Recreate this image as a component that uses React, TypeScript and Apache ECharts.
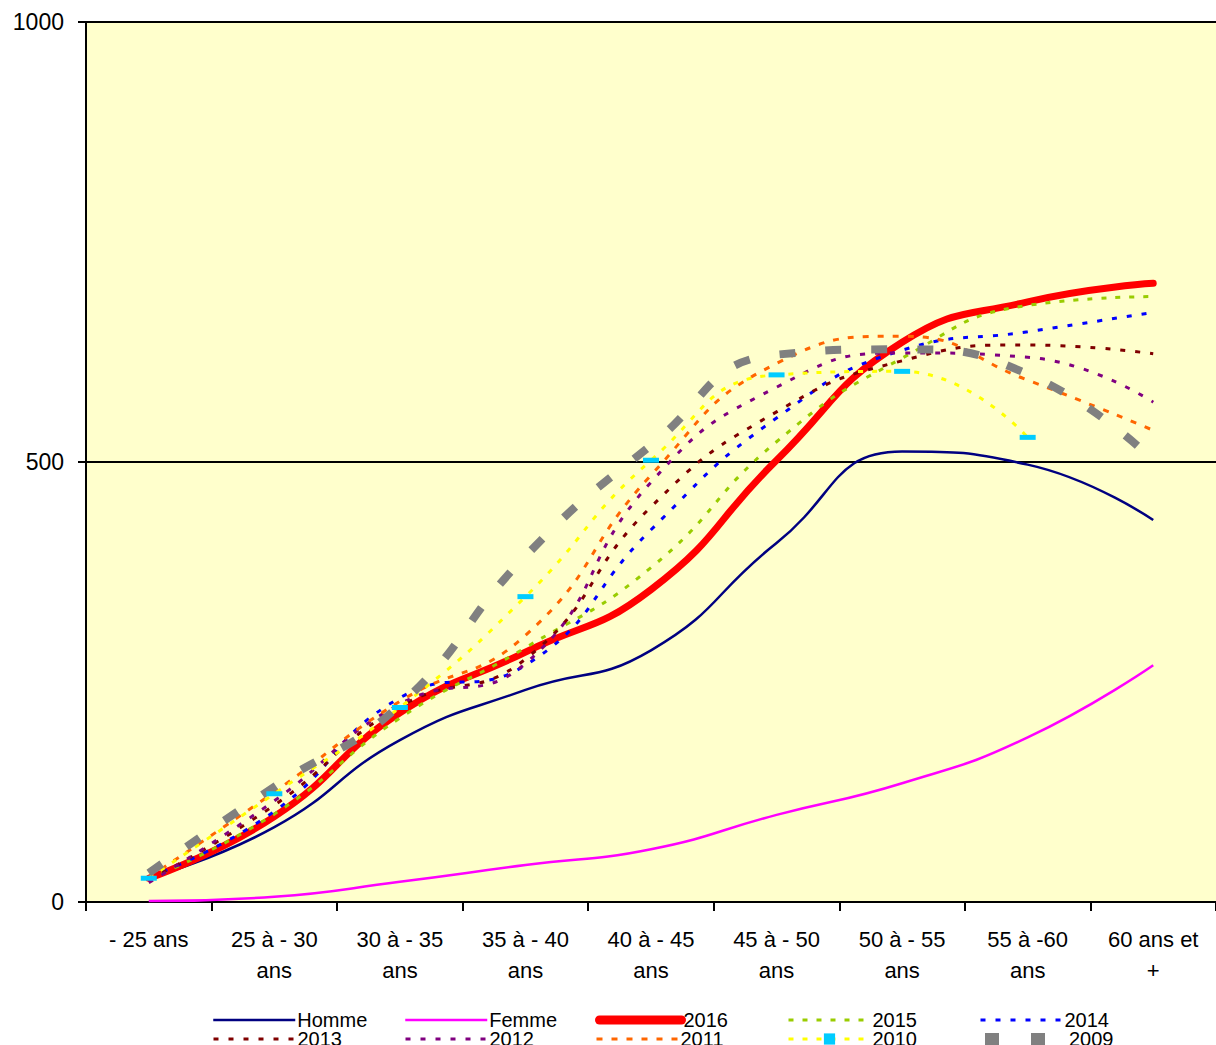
import React, { useEffect, useRef } from "react";
import * as echarts from "echarts";

const categories = [
  "- 25 ans",
  "25 à - 30\nans",
  "30 à - 35\nans",
  "35 à - 40\nans",
  "40 à - 45\nans",
  "45 à - 50\nans",
  "50 à - 55\nans",
  "55 à -60\nans",
  "60 ans et\n+",
];

const homme = [27, 85, 184, 241, 286, 408, 512, 497, 434];
const femme = [1, 6, 23, 42, 60, 99, 135, 187, 269];
const y2016 = [27, 97, 215, 284, 355, 502, 636, 682, 703];
const y2015 = [26, 100, 209, 289, 380, 523, 618, 678, 688];
const y2014 = [28, 103, 232, 269, 423, 550, 627, 648, 670];
const y2013 = [25, 110, 222, 276, 449, 557, 615, 633, 623];
const y2012 = [22, 115, 225, 271, 477, 585, 624, 619, 568];
const y2011 = [28, 125, 228, 303, 485, 612, 643, 593, 536];
const y2010 = [27, 123, 221, 347, 502, 599, 603, 528, null];
const y2009 = [33, 131, 224, 393, 519, 622, 628, 600, 502];

const yTicks = [0, 500, 1000];

const FONT = "'Liberation Sans', Arial, Helvetica, sans-serif";

export default function App() {
  const ref = useRef<HTMLDivElement>(null);

  useEffect(() => {
    if (!ref.current) return;
    const chart = echarts.init(ref.current, undefined, { renderer: "svg" });

    const styles: Record<string, any> = {
      Homme: { color: "#000080", width: 2.5, type: "solid" },
      Femme: { color: "#FF00FF", width: 2.5, type: "solid" },
      "2016": { color: "#FF0000", width: 7, type: "solid", cap: "round" },
      "2015": { color: "#99CC00", width: 3, type: [5, 9] },
      "2014": { color: "#0000FF", width: 3, type: [5, 10] },
      "2013": { color: "#800000", width: 3, type: [5, 10] },
      "2012": { color: "#800080", width: 3, type: [5, 10] },
      "2011": { color: "#FF6600", width: 3, type: [6, 9] },
      "2010": { color: "#FFFF00", width: 3, type: [5, 9] },
      "2009": { color: "#808080", width: 8, type: [16, 30] },
    };

    const mk = (name: string, data: (number | null)[]) => ({
      name,
      type: "line",
      data,
      smooth: 0.5,
      symbol: "none",
      lineStyle: { cap: "butt", ...styles[name] },
      itemStyle: { color: styles[name].color },
    });

    const series = [
      mk("Homme", homme),
      mk("Femme", femme),
      mk("2016", y2016),
      mk("2015", y2015),
      mk("2014", y2014),
      mk("2013", y2013),
      mk("2012", y2012),
      mk("2011", y2011),
      {
        name: "2010",
        type: "line",
        data: y2010,
        smooth: 0.5,
        symbol: "rect",
        symbolSize: [16, 5],
        showSymbol: true,
        lineStyle: { ...styles["2010"] },
        itemStyle: { color: "#00CCFF" },
      },
      mk("2009", y2009),
    ];

    const legendNames = [
      ["Homme", "Femme", "2016", "2015", "2014"],
      ["2013", "2012", "2011", "2010", "2009"],
    ];
    const legendLefts = [212, 404, 595, 787, 979];
    const legendTops = [1010, 1029];
    const legends: any[] = [];
    legendNames.forEach((row, r) =>
      row.forEach((n, i) => {
        const st = styles[n];
        legends.push({
          data: [n],
          left: legendLefts[i],
          top: legendTops[r],
          padding: 0,
          itemWidth: 82,
          itemHeight: 14,
          selectedMode: false,
          lineStyle: {
            color: st.color,
            width: n === "2016" ? 9 : n === "2009" ? 12 : st.width,
            type: n === "2009" ? [14, 32] : st.type,
            cap: n === "2016" ? "round" : "butt",
          },
          itemStyle:
            n === "2010"
              ? { color: "#00CCFF", opacity: 1 }
              : { opacity: 0 },
          textStyle: {
            fontSize: 20,
            lineHeight: 18,
            color: "#000",
            fontFamily: FONT,
            padding: [0, 0, 0, -3],
          },
        });
      })
    );

    chart.setOption({
      animation: false,
      backgroundColor: "#ffffff",
      grid: {
        left: 86,
        top: 22,
        width: 1134,
        height: 880,
        show: true,
        backgroundColor: "#FFFFCC",
        borderWidth: 0,
      },
      legend: legends,
      xAxis: {
        type: "category",
        data: categories,
        boundaryGap: true,
        axisLine: { show: true, lineStyle: { color: "#000", width: 2 } },
        axisTick: {
          show: true,
          alignWithLabel: false,
          length: 9,
          lineStyle: { color: "#000", width: 2 },
        },
        axisLabel: {
          interval: 0,
          margin: 22,
          fontSize: 22,
          lineHeight: 31,
          color: "#000",
          fontFamily: FONT,
        },
        splitLine: { show: false },
      },
      yAxis: {
        type: "value",
        min: yTicks[0],
        max: yTicks[yTicks.length - 1],
        interval: 500,
        axisLine: { show: true, lineStyle: { color: "#000", width: 2 } },
        axisTick: { show: true, length: 8, lineStyle: { color: "#000", width: 2 } },
        axisLabel: {
          margin: 22,
          fontSize: 23,
          color: "#000",
          fontFamily: FONT,
          formatter: (v: number) => String(v),
        },
        splitLine: { show: true, lineStyle: { color: "#000", width: 2 } },
      },
      series,
    });

    return () => chart.dispose();
  }, []);

  return (
    <div
      ref={ref}
      style={{ position: "absolute", left: 0, top: 0, width: 1216, height: 1045 }}
    />
  );
}
